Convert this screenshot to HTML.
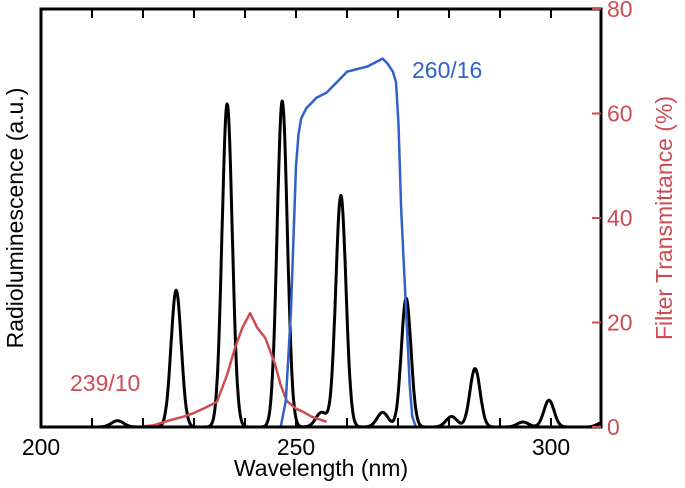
<!DOCTYPE html>
<html><head><meta charset="utf-8">
<style>
body{margin:0;background:#fff;}
svg{display:block;font-family:"Liberation Sans","DejaVu Sans",sans-serif;}
</style></head>
<body>
<svg id="chart" width="685" height="488" viewBox="0 0 685 488" xmlns="http://www.w3.org/2000/svg"></svg>
<script>
const xTicks=[200,250,300];
const yRightTicks=[0,20,40,60,80];
const peakCenters=[215,226.5,236.5,247.3,255,258.8,267,271.6,280.5,285.1,294.5,299.6,310];
const peakHeights=[1.5,32.7,77.3,78,3.5,55.4,3.5,30.8,2.5,14,1.2,6.4,1];
const peakWidths=[1.2,1.0,1.0,1.0,1.1,1.0,1.1,0.95,1.1,1.0,1.1,1.0,1.0];
const blueWl=[239,247,248,249,250,250.5,251,252,253,254,256,258,260,262,264,266,267,268,269,269.6,270.1,270.6,271.2,271.8,272.3,272.8,273.5,279.6];
const blueT=[0,0,5,22,50,56,59,61,62,63,64,66,68,68.5,69,70,70.5,69.5,68,66,58,42,30,18,8,2,0,0];
const redWl=[218.7,222,225,228,230,232,234.5,236.5,238,239.5,241,242.4,244,245.9,247,248.2,250,251.4,253,256];
const redT=[0,0.3,1.2,2,2.7,3.6,4.8,10,15,19,21.8,19,17,12,8,5,3.5,2.9,2,1];
const X0=41,X1=601,Y0=427,YT=9;
const xs=v=>X0+(v-200)*5.1;
const yl=v=>Y0-(v/100)*(Y0-YT);
const yr=v=>Y0-(v/80)*(Y0-YT);
const svg=document.getElementById('chart');
const NS='http://www.w3.org/2000/svg';
function mk(t,a){const e=document.createElementNS(NS,t);for(const k in a)e.setAttribute(k,a[k]);svg.appendChild(e);return e;}
let d='';
for(let w=200;w<=310;w+=0.1){let s=0;for(let i=0;i<peakCenters.length;i++){s+=peakHeights[i]*Math.exp(-0.5*Math.pow((w-peakCenters[i])/peakWidths[i],2));}
d+=(d?'L':'M')+xs(w).toFixed(1)+' '+yl(s).toFixed(1);}
let bl=mk('path',{d:d,fill:'none',stroke:'#000','stroke-width':3,'stroke-linejoin':'round'});


let rd=redWl.map((w,i)=>(i?'L':'M')+xs(w).toFixed(1)+' '+yr(redT[i]).toFixed(1)).join('');
let rp=mk('path',{d:rd,fill:'none',stroke:'#cc4c52','stroke-width':2.5,'stroke-linejoin':'round'});


let bd=blueWl.map((w,i)=>(i?'L':'M')+xs(w).toFixed(1)+' '+yr(blueT[i]).toFixed(1)).join('');
let bp=mk('path',{d:bd,fill:'none',stroke:'#2e62c8','stroke-width':2.5,'stroke-linejoin':'round'});


let fr=mk('rect',{x:X0,y:YT,width:X1-X0,height:Y0-YT,fill:'none',stroke:'#000','stroke-width':3});


for(let v=210;v<=300;v+=10){
 let t=mk('line',{x1:xs(v),x2:xs(v),y1:Y0,y2:Y0-9,stroke:'#000','stroke-width':2});
 
 
 let t2=mk('line',{x1:xs(v),x2:xs(v),y1:YT,y2:YT+9,stroke:'#000','stroke-width':2});
 
 
}
xTicks.forEach(v=>{let t=mk('text',{x:xs(v),y:Y0+28,'text-anchor':'middle','font-size':23,fill:'#000'});t.textContent=v;
 
 });
yRightTicks.forEach(v=>{let l=mk('line',{x1:X1-9,x2:X1,y1:yr(v),y2:yr(v),stroke:'#cc4c52','stroke-width':2});
 
 
 let t=mk('text',{x:X1+6,y:yr(v)+8,'font-size':23,fill:'#cc4c52'});t.textContent=v;
 
 });
</script>
<svg style="position:absolute;left:0;top:0" width="685" height="488" font-family="Liberation Sans, sans-serif">
<text x="321" y="476" text-anchor="middle" font-size="23" fill="#000">Wavelength (nm)</text>
<text transform="translate(23,218) rotate(-90)" text-anchor="middle" font-size="23" fill="#000">Radioluminescence (a.u.)</text>
<text transform="translate(672,218) rotate(-90)" text-anchor="middle" font-size="23" fill="#cc4c52">Filter Transmittance (%)</text>
<text x="412" y="78" font-size="23" fill="#2e62c8">260/16</text>
<text x="70" y="391" font-size="23" fill="#cc4c52">239/10</text>
</svg>
</body></html>
